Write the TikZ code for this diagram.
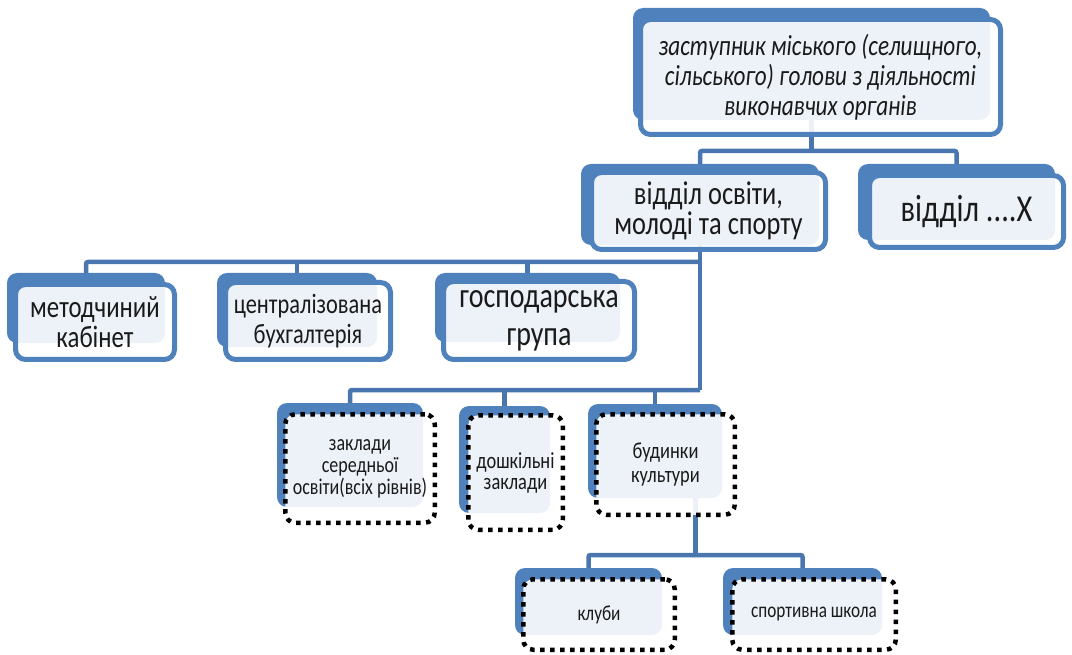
\documentclass[tikz,border=0pt]{standalone}
\usepackage{fontspec}
\setmainfont{Carlito}
\newfontfamily\cf[FakeStretch=0.8]{Carlito}
\usetikzlibrary{backgrounds,calc}
\definecolor{nblue}{HTML}{4F81BD}
\definecolor{lblue}{HTML}{4A76B0}
\definecolor{txt}{HTML}{1A1A1A}
\tikzset{
  backbox/.style={fill=nblue, draw=none, rounded corners=10pt, inner sep=0pt},
  frontbox/.style={fill=white, fill opacity=0.9, text opacity=1, draw=nblue, draw opacity=1,
    line width=5pt, rounded corners=10pt, inner sep=0pt, align=center, text=txt},
  dotbox/.style={fill=white, fill opacity=0.9, text opacity=1, draw=black, draw opacity=1,
    line width=4.5pt, dash pattern=on 4.5pt off 5.5pt, rounded corners=10pt, inner sep=0pt,
    align=center, text=txt},
  conn/.style={draw=lblue, line width=4.5pt, rounded corners=2pt},
  fs/.style n args={2}{font={\cf\fontsize{#1}{#2}\selectfont}}
}
\begin{document}
\begin{tikzpicture}[x=1pt,y=-1pt]
\useasboundingbox (0,0) rectangle (1072,655);
% ---------- level 0
\node[backbox, minimum width=357pt, minimum height=112pt] (topB) at (811.5,64) {};
\node[frontbox, minimum width=360pt, minimum height=115pt, font={\cf\itshape\fontsize{29}{30}\selectfont}] (top) at (820.5,77)
  {заступник міського (селищного,\\сільського) голови з діяльності\\виконавчих органів};
% ---------- level 1
\node[backbox, minimum width=238pt, minimum height=81pt] (osvB) at (700,204.5) {};
\node[frontbox, minimum width=234pt, minimum height=77pt, fs={33}{30}] (osv) at (708.5,211)
  {відділ освіти,\\молоді та спорту};
\node[backbox, minimum width=197pt, minimum height=76pt] (xB) at (956.5,202) {};
\node[frontbox, minimum width=194pt, minimum height=72pt, fs={38}{30}] (x) at (966.5,211.5)
  {відділ ....Х};
% ---------- level 2, row 1
\node[backbox, minimum width=158pt, minimum height=70pt] (metB) at (86,308) {};
\node[frontbox, minimum width=159pt, minimum height=75pt, fs={31}{30}] (met) at (95,322)
  {методчиний\\кабінет};
\node[backbox, minimum width=160pt, minimum height=74pt] (centB) at (297,310) {};
\node[frontbox, minimum width=165pt, minimum height=77pt, fs={28}{30}] (cent) at (308,321)
  {централізована\\бухгалтерія};
\node[backbox, minimum width=185pt, minimum height=69pt] (gospB) at (527.5,307.5) {};
\node[frontbox, minimum width=191pt, minimum height=78pt, fs={35}{38}] (gosp) at (539,320.5)
  {господарська\\група};
% ---------- level 2, row 2
\node[backbox, minimum width=146pt, minimum height=104pt] (zaklB) at (350,455) {};
\node[dotbox, minimum width=149.5pt, minimum height=108.5pt, fs={22.5}{22}] (zakl) at (360,468.5)
  {заклади\\середньої\\освіти(всіх рівнів)};
\node[backbox, minimum width=91pt, minimum height=107pt] (doshB) at (504.5,459.5) {};
\node[dotbox, minimum width=94.5pt, minimum height=114.5pt, fs={23}{21}] (dosh) at (515.5,472.5)
  {дошкільні\\заклади};
\node[backbox, minimum width=134pt, minimum height=94pt] (budB) at (655,451) {};
\node[dotbox, minimum width=138.5pt, minimum height=100.5pt, fs={23}{24}] (bud) at (665.5,464.5)
  {будинки\\культури};
% ---------- level 3
\node[backbox, minimum width=147pt, minimum height=67pt] (klB) at (588.5,601.5) {};
\node[dotbox, minimum width=151.5pt, minimum height=70.5pt, fs={21.5}{22}] (kl) at (599,614.5)
  {клуби};
\node[backbox, minimum width=159pt, minimum height=67pt] (spB) at (802.5,601.5) {};
\node[dotbox, minimum width=163.5pt, minimum height=70.5pt, fs={21.5}{22}] (sp) at (814,614.5)
  {спортивна школа};
% ---------- connectors
\begin{scope}[on background layer]
  \coordinate (b1) at (0,151);
  \coordinate (b2) at (0,262);
  \coordinate (b3) at (0,390);
  \coordinate (b4) at (0,555);
  \draw[conn] (topB.south) -- (topB.south |- b1);
  \draw[conn] (osvB.north) -- (osvB.north |- b1) -- (xB.north |- b1) -- (xB.north);
  \draw[conn] (osvB.south) -- (osvB.south |- b3);
  \draw[conn] (metB.north) -- (metB.north |- b2) -- (osvB.south |- b2);
  \draw[conn] (centB.north) -- (centB.north |- b2);
  \draw[conn] (gospB.north) -- (gospB.north |- b2);
  \draw[conn] (zaklB.north) -- (zaklB.north |- b3) -- (osvB.south |- b3);
  \draw[conn] (doshB.north) -- (doshB.north |- b3);
  \draw[conn] (budB.north) -- (budB.north |- b3);
  \coordinate (mid) at ($(klB.north)!0.5!(spB.north)$);
  \draw[conn] (mid |- budB.south) -- (mid |- b4);
  \draw[conn] (klB.north) -- (klB.north |- b4) -- (spB.north |- b4) -- (spB.north);
\end{scope}
\end{tikzpicture}
\end{document}
